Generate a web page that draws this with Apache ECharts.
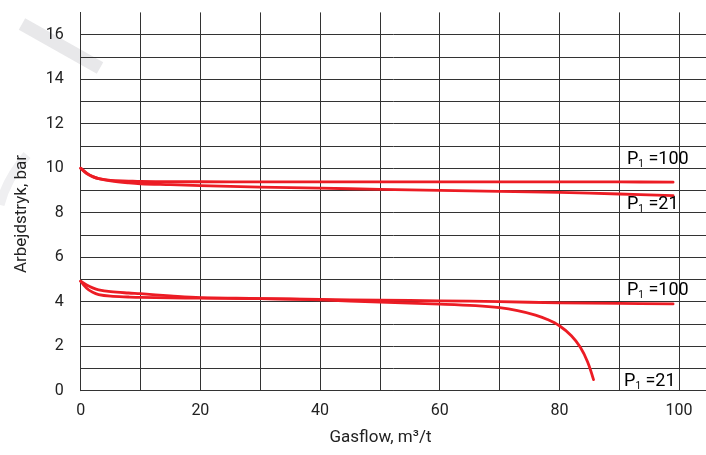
<!DOCTYPE html>
<html><head><meta charset="utf-8">
<script src="https://cdn.jsdelivr.net/npm/echarts@6/dist/echarts.min.js"></script>
<style>html,body{margin:0;padding:0;background:#fff}#c{width:706px;height:455px}</style>
</head><body><div id="c"></div>
<script>
const FONT = "Roboto, 'Liberation Sans', sans-serif";

// Tick labels shown
const xTickLabels = [0, 20, 40, 60, 80, 100];
const yTickLabels = [0, 2, 4, 6, 8, 10, 12, 14, 16];

// Upper pair (start at 10 bar)
const upper100X = [0, 1, 2, 3, 5, 8, 10, 15, 20, 30, 40, 50, 60, 70, 80, 90, 99];
const upper100Y = [10.0, 9.78, 9.62, 9.53, 9.45, 9.42, 9.4, 9.39, 9.39, 9.38, 9.38, 9.38, 9.38, 9.38, 9.38, 9.38, 9.37];
const upper21X = [0, 1, 2, 3, 5, 8, 10, 15, 20, 30, 40, 50, 60, 70, 80, 90, 99];
const upper21Y = [10.0, 9.76, 9.62, 9.53, 9.43, 9.34, 9.3, 9.26, 9.22, 9.15, 9.1, 9.05, 9.0, 8.96, 8.91, 8.84, 8.77];

// Lower pair (start near 5 bar)
const lower100X = [0, 1, 2, 3, 5, 8, 10, 15, 20, 30, 40, 50, 60, 70, 80, 90, 99];
const lower100Y = [4.92, 4.6, 4.42, 4.32, 4.25, 4.21, 4.19, 4.17, 4.16, 4.14, 4.1, 4.07, 4.04, 4.0, 3.95, 3.92, 3.9];
const lower21X = [0, 1, 2, 3, 5, 8, 10, 15, 20, 30, 40, 50, 60, 66, 70, 73, 76, 78, 80, 82, 83.5, 84.7, 85.7];
const lower21Y = [4.92, 4.75, 4.62, 4.53, 4.45, 4.39, 4.36, 4.26, 4.18, 4.14, 4.08, 3.98, 3.89, 3.82, 3.73, 3.6, 3.4, 3.2, 2.92, 2.47, 1.95, 1.3, 0.5];

// Curve labels: text and anchor in data coordinates
const labelTexts = ['=100', '=21', '=100', '=21'];
const labelAnchors = [[91.3, 10.37], [91.3, 8.35], [91.3, 4.5], [90.8, 0.41]];

const zip = (xs, ys) => xs.map((x, i) => [x, ys[i]]);
const RED = '#ec1c24';
const GRID = '#333333';

function curve(xs, ys) {
  return {
    type: 'line', data: zip(xs, ys), showSymbol: false, symbol: 'none',
    smooth: 0.35,
    lineStyle: { color: RED, width: 2.8, join: 'round', cap: 'round' }, z: 3, silent: true
  };
}

const chart = echarts.init(document.getElementById('c'), null, { renderer: 'canvas' });
chart.setOption({
  animation: false,
  backgroundColor: '#fff',
  grid: { left: 80.7, right: 0, top: 12.4, bottom: 64.3, containLabel: false },
  xAxis: {
    type: 'value', min: 0, max: 104.5, interval: 10,
    axisLine: { show: true, lineStyle: { color: GRID, width: 1 } },
    axisTick: { show: false },
    axisLabel: {
      margin: 12, color: '#222', fontFamily: FONT, fontSize: 16,
      formatter: v => xTickLabels.includes(v) ? String(v) : '',
      showMaxLabel: false
    },
    splitLine: { show: true, showMaxLine: false, lineStyle: { color: GRID, width: 1 } }
  },
  yAxis: {
    type: 'value', min: 0, max: 17, interval: 1,
    axisLine: { show: true, lineStyle: { color: GRID, width: 1 } },
    axisTick: { show: false },
    axisLabel: {
      margin: 17, color: '#222', fontFamily: FONT, fontSize: 16,
      formatter: v => yTickLabels.includes(v) ? String(v) : ''
    },
    splitLine: { show: true, showMaxLine: false, lineStyle: { color: GRID, width: 1 } }
  },
  series: [
    curve(upper100X, upper100Y),
    curve(upper21X, upper21Y),
    curve(lower100X, lower100Y),
    curve(lower21X, lower21Y)
  ]
});

const rich = {
  p: { fontFamily: FONT, fontSize: 18, lineHeight: 20, color: '#111' },
  s: { fontFamily: FONT, fontSize: 10, lineHeight: 12, verticalAlign: 'bottom', color: '#111' }
};
const labelGraphics = labelAnchors.map((a, i) => {
  const p = chart.convertToPixel({ gridIndex: 0 }, a);
  return {
    type: 'text', x: p[0], y: p[1], z: 10,
    style: { text: '{p|P}{s|1}{p| ' + labelTexts[i] + '}', rich: rich, align: 'left', verticalAlign: 'middle' }
  };
});

chart.setOption({
  graphic: [
    { type: 'line', z: -100, silent: true,
      shape: { x1: 22, y1: 24, x2: 100, y2: 68 },
      style: { stroke: '#e8e8ea', lineWidth: 13, lineCap: 'butt' } },
    { type: 'bezierCurve', z: -100, silent: true,
      shape: { x1: 0, y1: 205, cpx1: 6, cpy1: 180, x2: 27, y2: 155 },
      style: { stroke: '#efeff1', lineWidth: 9, fill: null } },
    { type: 'text', x: 380.5, y: 438, z: 10,
      style: { text: 'Gasflow, m³/t', fontFamily: FONT, fontSize: 17, fill: '#222', align: 'center', verticalAlign: 'middle' } },
    { type: 'text', x: 21.5, y: 214, rotation: Math.PI / 2, z: 10,
      style: { text: 'Arbejdstryk, bar', fontFamily: FONT, fontSize: 17, fill: '#222', align: 'center', verticalAlign: 'middle' } }
  ].concat(labelGraphics)
});
</script>
</body></html>
